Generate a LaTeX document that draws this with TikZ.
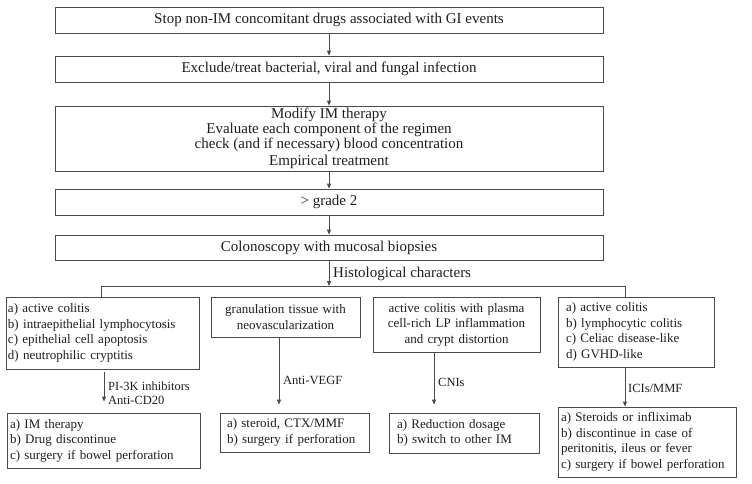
\documentclass[tikz,border=0pt]{standalone}
\usepackage{fontspec}
\setmainfont{Liberation Serif}
\usetikzlibrary{arrows.meta}
\definecolor{edgegray}{HTML}{4A4A4A}
\definecolor{inkblack}{HTML}{1E1E1E}

\begin{document}
\begin{tikzpicture}[x=1pt, y=-1pt, >={Triangle[length=5pt, width=4pt]},
  stepbox/.style={draw=edgegray, line width=0.8pt, text=inkblack, inner sep=0pt,
    minimum width=548pt, align=center, font=\fontsize{15}{13}\selectfont},
  histbox/.style={draw=edgegray, line width=0.8pt, text=inkblack, inner ysep=0pt,
    font=\fontsize{13}{15.5}\selectfont},
  flow/.style={->, edgegray, line width=0.8pt},
  tag/.style={text=inkblack, anchor=west, inner sep=0pt, align=left,
    font=\fontsize{12.5}{14}\selectfont}]

\useasboundingbox (0,0) rectangle (752,483);

% ============================================================
% Main sequence (one column of wide boxes)
% ============================================================
\node[stepbox, minimum height=26pt] (stop) at (329,20)
  {Stop non-IM concomitant drugs associated with GI events};
\node[stepbox, minimum height=26pt] (exclude) at (329,69)
  {Exclude/treat bacterial, viral and fungal infection};
\node[stepbox, minimum height=65pt] (modify) at (329,138.5)
  {Modify IM therapy\\ Evaluate each component of the regimen\\
   check (and if necessary) blood concentration\\[3pt] Empirical treatment};
\node[stepbox, minimum height=26pt] (grade) at (329,202) {> grade 2};
\node[stepbox, minimum height=25pt] (colono) at (329,247.5)
  {Colonoscopy with mucosal biopsies};

\draw[flow] (stop) -- (exclude);
\draw[flow] (exclude) -- (modify);
\draw[flow] (modify) -- (grade);
\draw[flow] (grade) -- (colono);

% ============================================================
% Split into the four histological patterns
% ============================================================
\coordinate (split) at (329,286);
\coordinate (jA) at (101,286);
\coordinate (jD) at (625,286);

\draw[flow] (colono.south) -- (colono.south |- split);
\node[tag, font=\fontsize{15}{15}\selectfont] (hist) at (333,274) {Histological characters};

% Pattern boxes
\node[histbox, align=left, text width=189pt, inner xsep=2pt, minimum height=72pt]
  (colitisA) at (102.5,333)
  {a) active colitis\\ b) intraepithelial lymphocytosis\\
   c) epithelial cell apoptosis\\ d) neutrophilic cryptitis};
\node[histbox, align=center, text width=145pt, inner xsep=2pt, minimum height=40pt]
  (granul) at (285.5,317)
  {granulation tissue with\\ neovascularization};
\node[histbox, align=center, text width=163pt, inner xsep=2pt, minimum height=55pt]
  (plasma) at (456.5,324.5)
  {active colitis with plasma\\ cell-rich LP inflammation\\ and crypt distortion};
\node[histbox, align=left, text width=140pt, inner xsep=8pt, minimum height=70pt]
  (lympho) at (636,332)
  {a) active colitis\\ b) lymphocytic colitis\\
   c) Celiac disease-like\\ d) GVHD-like};

\draw[edgegray, line width=0.8pt]
  (colitisA.north -| jA) -- (jA) -- (jD) -- (lympho.north -| jD);

% ============================================================
% Treatment boxes
% ============================================================
\node[histbox, align=left, text width=187pt, inner xsep=3pt, minimum height=55pt]
  (treatA) at (103.5,440.5)
  {a) IM therapy\\ b) Drug discontinue\\ c) surgery if bowel perforation};
\node[histbox, align=left, text width=135pt, inner xsep=7pt, minimum height=39pt]
  (treatB) at (294.5,432.5)
  {a) steroid, CTX/MMF\\ b) surgery if perforation};
\node[histbox, align=left, text width=134pt, inner xsep=8pt, minimum height=40pt]
  (treatC) at (464,433)
  {a) Reduction dosage\\ b) switch to other IM};
\node[histbox, align=left, text width=172pt, inner xsep=3pt, minimum height=70pt]
  (treatD) at (647,442)
  {a) Steroids or infliximab\\ b) discontinue in case of\\
   peritonitis, ileus or fever\\ c) surgery if bowel perforation};

% Arrows (off-centre, stopping short of the lower boxes)
\draw[flow, shorten <=3pt, shorten >=11pt]
  ([xshift=1.5pt]colitisA.south) -- ([xshift=1.5pt]colitisA.south |- treatA.north);
\draw[flow, shorten <=1pt, shorten >=8pt]
  ([xshift=-6.5pt]granul.south) -- ([xshift=-6.5pt]granul.south |- treatB.north);
\draw[flow, shorten >=8pt]
  ([xshift=-22.5pt]plasma.south) -- ([xshift=-22.5pt]plasma.south |- treatC.north);
\draw[flow]
  ([xshift=-11pt]lympho.south) -- ([xshift=-11pt]lympho.south |- treatD.north);

% Arrow labels
\node[tag] (lblPI) at (108,393) {PI-3K inhibitors\\ Anti-CD20};
\node[tag] (lblVEGF) at (283,380) {Anti-VEGF};
\node[tag] (lblCNI) at (438,382) {CNIs};
\node[tag] (lblICI) at (628,388) {ICIs/MMF};

\end{tikzpicture}
\end{document}
